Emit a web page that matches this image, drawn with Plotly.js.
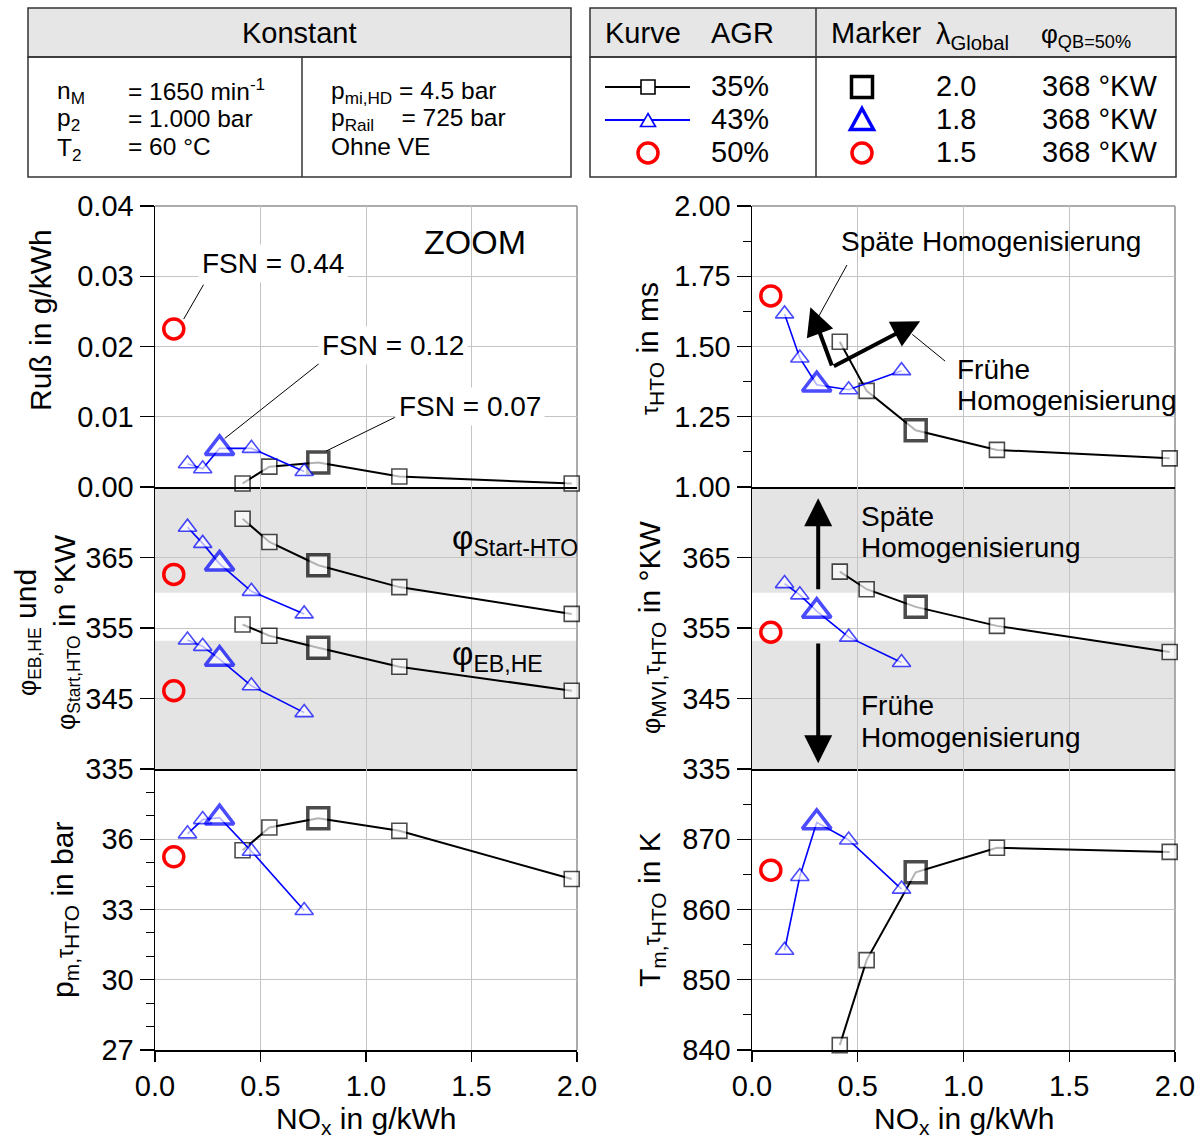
<!DOCTYPE html>
<html>
<head>
<meta charset="utf-8">
<script src="https://cdn.plot.ly/plotly-3.0.1.min.js"></script>
<style>html,body{margin:0;padding:0;background:#fff;}#chart{width:1202px;height:1142px;}</style>
</head>
<body>
<div id="chart"></div>
<script>
// ---------------- DATA ----------------
const noxBlack = [0.415, 0.542, 0.774, 1.158, 1.975];   // AGR 35 %
const noxBlue  = [0.154, 0.226, 0.306, 0.457, 0.707];   // AGR 43 %
const noxRed   = [0.089];                               // AGR 50 %

const russBlack = [0.0005, 0.0029, 0.0035, 0.0015, 0.0005];
const russBlue  = [0.0033, 0.0026, 0.0055, 0.0055, 0.0022];
const russRed   = [0.0225];

const phiStartBlack = [370.5, 367.2, 363.9, 360.8, 357.0];
const phiStartBlue  = [369.3, 367.0, 364.1, 360.2, 357.0];
const phiStartRed   = [362.6];
const phiEBBlack = [355.5, 353.9, 352.2, 349.5, 346.1];
const phiEBBlue  = [353.3, 352.4, 350.6, 346.8, 343.0];
const phiEBRed   = [346.1];

const pmBlack = [35.53, 36.50, 36.90, 36.36, 34.30];
const pmBlue  = [36.23, 36.84, 36.92, 35.49, 32.96];
const pmRed   = [35.25];

const tauBlack = [1.517, 1.342, 1.202, 1.132, 1.102];
const tauBlue  = [1.616, 1.459, 1.364, 1.346, 1.414];
const tauRed   = [1.680];

const phiMVIBlack = [363.0, 360.5, 358.0, 355.3, 351.6];
const phiMVIBlue  = [361.3, 359.7, 357.4, 353.7, 350.1];
const phiMVIRed   = [354.4];

const tmBlack = [840.7, 852.8, 865.3, 868.8, 868.2];
const tmBlue  = [854.2, 864.7, 872.4, 869.9, 862.9];
const tmRed   = [865.6];

const xTicks = [0, 0.5, 1.0, 1.5, 2.0];
const russTicks = [0, 0.01, 0.02, 0.03, 0.04];
const phiTicks = [335, 345, 355, 365];
const pmTicks = [27, 30, 33, 36];
const tauTicks = [1.00, 1.25, 1.50, 1.75, 2.00];
const tmTicks = [840, 850, 860, 870];

// ---------------- STYLE ----------------
const FONT = 'Liberation Sans, Arial, Helvetica, sans-serif';
const W = 1202, H = 1142;
const P = px => px / W;
const Q = py => 1 - py / H;
const GRID = '#c4c4c4';
const TICKF = 29;

const bigIdx = 2;
const sqSizes = noxBlack.map((_, i) => i === bigIdx ? 21 : 15);
const sqLines = noxBlack.map((_, i) => i === bigIdx ? 3.5 : 1.6);
const trSizes = noxBlue.map((_, i) => i === bigIdx ? 25 : 16);
const trLines = noxBlue.map((_, i) => i === bigIdx ? 3.5 : 1.6);

function black(y, xa, ya) {
  return {x: noxBlack, y: y, xaxis: xa, yaxis: ya, type: 'scatter', mode: 'lines+markers',
    line: {color: '#000', width: 2}, cliponaxis: false, showlegend: false,
    marker: {symbol: 'square', size: sqSizes, color: '#fff', line: {color: '#000', width: sqLines}}};
}
function blue(y, xa, ya) {
  return {x: noxBlue, y: y, xaxis: xa, yaxis: ya, type: 'scatter', mode: 'lines+markers',
    line: {color: '#0000ff', width: 1.6}, cliponaxis: false, showlegend: false,
    marker: {symbol: 'triangle-up', size: trSizes, color: '#fff', line: {color: '#0000ff', width: trLines}}};
}
function red(y, xa, ya) {
  return {x: noxRed, y: y, xaxis: xa, yaxis: ya, type: 'scatter', mode: 'markers',
    cliponaxis: false, showlegend: false,
    marker: {symbol: 'circle-open', size: 20, color: '#ff0000', line: {color: '#ff0000', width: 3.5}}};
}

const data = [
  black(russBlack, 'x', 'y'), blue(russBlue, 'x', 'y'), red(russRed, 'x', 'y'),
  black(phiStartBlack, 'x2', 'y2'), black(phiEBBlack, 'x2', 'y2'),
  blue(phiStartBlue, 'x2', 'y2'), blue(phiEBBlue, 'x2', 'y2'),
  red(phiStartRed, 'x2', 'y2'), red(phiEBRed, 'x2', 'y2'),
  black(pmBlack, 'x3', 'y3'), blue(pmBlue, 'x3', 'y3'), red(pmRed, 'x3', 'y3'),
  black(tauBlack, 'x4', 'y4'), blue(tauBlue, 'x4', 'y4'), red(tauRed, 'x4', 'y4'),
  black(phiMVIBlack, 'x5', 'y5'), blue(phiMVIBlue, 'x5', 'y5'), red(phiMVIRed, 'x5', 'y5'),
  black(tmBlack, 'x6', 'y6'), blue(tmBlue, 'x6', 'y6'), red(tmRed, 'x6', 'y6')
];

const colL = [P(155), P(577)];
const colR = [P(752), P(1175)];
const rowT = [Q(487), Q(206)];
const rowM = [Q(769), Q(487)];
const rowB = [Q(1050), Q(769)];

function xax(domain, anchor, bottom) {
  return {domain: domain, anchor: anchor, range: [0, 2], tickvals: xTicks, tickformat: '.1f',
    showticklabels: bottom, ticks: bottom ? 'outside' : '', ticklen: 10, tickwidth: 1.2, tickcolor: '#000',
    showgrid: true, gridcolor: GRID, gridwidth: 1, zeroline: false,
    showline: true, linecolor: '#000', linewidth: 1.5,
    tickfont: {family: FONT, size: TICKF, color: '#000'}};
}
function yax(domain, anchor, range, tickvals, fmt, minorDtick) {
  const a = {domain: domain, anchor: anchor, range: range, tickvals: tickvals, tickformat: fmt,
    ticks: 'outside', ticklen: 14, tickwidth: 1.2, tickcolor: '#000',
    showgrid: true, gridcolor: GRID, gridwidth: 1, zeroline: false,
    showline: true, linecolor: '#000', linewidth: 1.5,
    tickfont: {family: FONT, size: TICKF, color: '#000'}};
  if (minorDtick) a.minor = {dtick: minorDtick, ticks: 'outside', ticklen: 8, tickwidth: 1, tickcolor: '#000', showgrid: false};
  return a;
}

// ---------------- SHAPES ----------------
const shapes = [];
// grey bands in the middle panels
[['x2', 'y2'], ['x5', 'y5']].forEach(([xa, ya]) => {
  shapes.push({type: 'rect', layer: 'below', xref: xa + ' domain', yref: ya, x0: 0, x1: 1, y0: 335, y1: 353.2, fillcolor: '#e4e4e4', line: {width: 0}});
  shapes.push({type: 'rect', layer: 'below', xref: xa + ' domain', yref: ya, x0: 0, x1: 1, y0: 360, y1: 375, fillcolor: '#e4e4e4', line: {width: 0}});
});
// grey top/right frame lines
[colL, colR].forEach(c => {
  shapes.push({type: 'line', layer: 'below', xref: 'paper', yref: 'paper', x0: c[0], x1: c[1], y0: rowT[1], y1: rowT[1], line: {color: '#909090', width: 1.5}});
  shapes.push({type: 'line', layer: 'below', xref: 'paper', yref: 'paper', x0: c[1], x1: c[1], y0: rowB[0], y1: rowT[1], line: {color: '#909090', width: 1.5}});
});
// header tables
const BOX = '#333';
shapes.push({type: 'rect', xref: 'paper', yref: 'paper', x0: P(28), x1: P(571), y0: Q(57), y1: Q(8), fillcolor: '#e6e6e6', line: {color: BOX, width: 1.5}, layer: 'below'});
shapes.push({type: 'rect', xref: 'paper', yref: 'paper', x0: P(28), x1: P(571), y0: Q(177), y1: Q(57), line: {color: BOX, width: 1.5}, layer: 'below'});
shapes.push({type: 'line', xref: 'paper', yref: 'paper', x0: P(302), x1: P(302), y0: Q(177), y1: Q(57), line: {color: BOX, width: 1.5}});
shapes.push({type: 'rect', xref: 'paper', yref: 'paper', x0: P(590), x1: P(1176), y0: Q(57), y1: Q(8), fillcolor: '#e6e6e6', line: {color: BOX, width: 1.5}, layer: 'below'});
shapes.push({type: 'rect', xref: 'paper', yref: 'paper', x0: P(590), x1: P(1176), y0: Q(177), y1: Q(57), line: {color: BOX, width: 1.5}, layer: 'below'});
shapes.push({type: 'line', xref: 'paper', yref: 'paper', x0: P(816), x1: P(816), y0: Q(177), y1: Q(8), line: {color: BOX, width: 1.5}});
// legend keys
function hline(x0, x1, y, col) { shapes.push({type: 'line', xref: 'paper', yref: 'paper', x0: P(x0), x1: P(x1), y0: Q(y), y1: Q(y), line: {color: col, width: 2}}); }
function sq(cx, cy, s, lw) { shapes.push({type: 'rect', xref: 'paper', yref: 'paper', x0: P(cx - s / 2), x1: P(cx + s / 2), y0: Q(cy + s / 2), y1: Q(cy - s / 2), fillcolor: '#fff', line: {color: '#000', width: lw}}); }
function tri(cx, cy, w, h, lw) {
  const path = 'M' + P(cx) + ',' + Q(cy - h / 2) + ' L' + P(cx + w / 2) + ',' + Q(cy + h / 2) + ' L' + P(cx - w / 2) + ',' + Q(cy + h / 2) + ' Z';
  shapes.push({type: 'path', xref: 'paper', yref: 'paper', path: path, fillcolor: '#fff', line: {color: '#0000ff', width: lw}});
}
function circ(cx, cy, r) { shapes.push({type: 'circle', xref: 'paper', yref: 'paper', x0: P(cx - r), x1: P(cx + r), y0: Q(cy + r), y1: Q(cy - r), line: {color: '#ff0000', width: 3.5}}); }
hline(605, 690, 87, '#000'); sq(648, 87, 14, 1.6);
hline(605, 690, 120, '#0000ff'); tri(648, 120, 15, 13, 1.6);
circ(648, 153, 10);
sq(862, 87, 21, 3.5); tri(862, 119, 23, 21, 3.5); circ(862, 153, 10);

// leader lines (thin)
shapes.push({type: 'line', xref: 'x', yref: 'y', x0: 0.23, y0: 0.0288, x1: 0.136, y1: 0.0239, line: {color: '#000', width: 1}});
shapes.push({type: 'line', xref: 'x', yref: 'y', x0: 0.80, y0: 0.0181, x1: 0.33, y1: 0.0069, line: {color: '#000', width: 1}});
shapes.push({type: 'line', xref: 'x', yref: 'y', x0: 1.136, y0: 0.0099, x1: 0.81, y1: 0.0051, line: {color: '#000', width: 1}});
shapes.push({type: 'line', xref: 'x4', yref: 'y4', x0: 0.449, y0: 1.790, x1: 0.313, y1: 1.604, line: {color: '#000', width: 1}});
shapes.push({type: 'line', xref: 'x4', yref: 'y4', x0: 0.913, y0: 1.448, x1: 0.758, y1: 1.543, line: {color: '#000', width: 1}});

// ---------------- ANNOTATIONS ----------------
const ann = [];
function txt(text, px, py, size, opts) {
  ann.push(Object.assign({text: text, xref: 'paper', yref: 'paper', x: P(px), y: Q(py), showarrow: false,
    xanchor: 'left', yanchor: 'middle', font: {family: FONT, size: size, color: '#000'}}, opts || {}));
}
const NB = '\u00A0';
// tables
txt('Konstant', 299, 33, 29, {xanchor: 'center'});
txt('n<sub>M</sub>', 55, 93, 24.5); txt('= 1650 min<sup>-1</sup>', 126, 90, 24.5);
txt('p<sub>2</sub>', 55, 120, 24.5); txt('= 1.000 bar', 126, 118, 24.5);
txt('T<sub>2</sub>', 55, 149, 24.5); txt('= 60 °C', 126, 147, 24.5);
txt('p<sub>mi,HD</sub> = 4.5 bar', 329, 92, 24.5);
txt('p<sub>Rail</sub>' + NB + NB + NB + NB + '= 725 bar', 329, 119, 24.5);
txt('Ohne VE', 329, 147, 24.5);
txt('Kurve', 603, 33, 29); txt('AGR', 709, 33, 29);
txt('Marker', 829, 33, 29); txt('λ<sub>Global</sub>', 934, 36, 29);
txt('φ<sub>QB=50%</sub>', 1039, 36, 26);
txt('35%', 709, 86, 29); txt('43%', 709, 119, 29); txt('50%', 709, 152, 29);
txt('2.0', 934, 86, 29); txt('1.8', 934, 119, 29); txt('1.5', 934, 152, 29);
txt('368 °KW', 1040, 86, 29); txt('368 °KW', 1040, 119, 29); txt('368 °KW', 1040, 152, 29);

// axis titles
txt('NO<sub>x</sub> in g/kWh', 366, 1120, 30, {xanchor: 'center'});
txt('NO<sub>x</sub> in g/kWh', 964, 1120, 30, {xanchor: 'center'});
txt('Ruß in g/kWh', 40, 320, 30, {xanchor: 'center', textangle: -90});
txt('<span style="font-size:25px">φ<sub>EB,HE</sub></span> und<br><span style="font-size:25px">φ<sub>Start,HTO</sub></span> in °KW', 46, 632, 30, {xanchor: 'center', textangle: -90});
txt('p<sub>m,</sub><span style="font-size:23px">τ</span><sub>HTO</sub> in bar', 64, 910, 30, {xanchor: 'center', textangle: -90});
txt('<span style="font-size:23px">τ</span><sub>HTO</sub> in ms', 649, 349, 30, {xanchor: 'center', textangle: -90});
txt('<span style="font-size:25px">φ</span><sub>MVI,</sub><span style="font-size:23px">τ</span><sub>HTO</sub> in °KW', 651, 628, 30, {xanchor: 'center', textangle: -90});
txt('T<sub>m,</sub><span style="font-size:23px">τ</span><sub>HTO</sub> in K', 651, 910, 30, {xanchor: 'center', textangle: -90});

// in-plot text
txt('ZOOM', 475, 242, 34, {xanchor: 'center'});
txt('FSN = 0.44', 273, 263, 28, {xanchor: 'center', bgcolor: '#fff', borderpad: 3});
txt('FSN = 0.12', 393, 345, 28, {xanchor: 'center', bgcolor: '#fff', borderpad: 3});
txt('FSN = 0.07', 470, 407, 28, {xanchor: 'center', bgcolor: '#fff', borderpad: 3});
txt('φ<sub>Start-HTO</sub>', 450, 540, 33);
txt('φ<sub>EB,HE</sub>', 450, 656, 33);
txt('Späte Homogenisierung', 839, 241, 28);
txt('Frühe', 955, 369, 28);
txt('Homogenisierung', 955, 400, 28);
txt('Späte', 859, 516, 28);
txt('Homogenisierung', 859, 547, 28);
txt('Frühe', 859, 705, 28);
txt('Homogenisierung', 859, 737, 28);

// thick arrows
function arrow(xref, yref, x, y, ax, ay) {
  ann.push({text: '', xref: xref, yref: yref, axref: xref, ayref: yref, x: x, y: y, ax: ax, ay: ay,
    showarrow: true, arrowhead: 2, arrowsize: 1.4, arrowwidth: 4, arrowcolor: '#000'});
}
arrow('x4', 'y4', 0.276, 1.640, 0.380, 1.427);
arrow('x4', 'y4', 0.795, 1.590, 0.380, 1.427);
arrow('x5', 'y5', 0.313, 373.4, 0.313, 360.3);
arrow('x5', 'y5', 0.313, 335.8, 0.313, 353.0);

const layout = {
  width: W, height: H, margin: {l: 0, r: 0, t: 0, b: 0},
  paper_bgcolor: '#fff', plot_bgcolor: 'rgba(0,0,0,0)',
  font: {family: FONT, color: '#000'},
  showlegend: false,
  xaxis: xax(colL, 'y', false), xaxis2: xax(colL, 'y2', false), xaxis3: xax(colL, 'y3', true),
  xaxis4: xax(colR, 'y4', false), xaxis5: xax(colR, 'y5', false), xaxis6: xax(colR, 'y6', true),
  yaxis: yax(rowT, 'x', [0, 0.04], russTicks, '.2f'),
  yaxis2: yax(rowM, 'x2', [335, 375], phiTicks, 'd'),
  yaxis3: yax(rowB, 'x3', [27, 39], pmTicks, 'd', 1),
  yaxis4: yax(rowT, 'x4', [1, 2], tauTicks, '.2f', 0.125),
  yaxis5: yax(rowM, 'x5', [335, 375], phiTicks, 'd'),
  yaxis6: yax(rowB, 'x6', [840, 880], tmTicks, 'd', 5),
  shapes: shapes,
  annotations: ann
};

Plotly.newPlot('chart', data, layout, {displayModeBar: false, staticPlot: true});
</script>
</body>
</html>
